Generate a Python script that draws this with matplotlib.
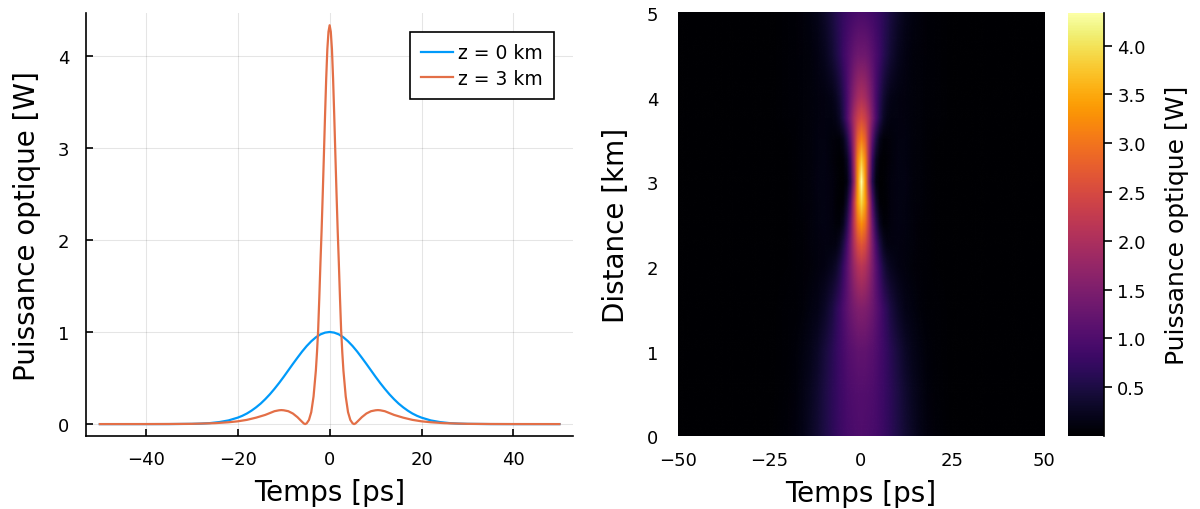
import numpy as np
import matplotlib
matplotlib.use("Agg")
import matplotlib.pyplot as plt
from matplotlib.image import NonUniformImage

# values (t >= 0 half, pulse is symmetric)
t_blue = [0, 1, 2, 3, 4, 5, 6, 7, 8, 9, 10, 11, 12, 13, 14, 15, 16, 17, 18, 19, 20,
          22, 24, 26, 28, 30, 35, 40, 50]
p_blue = [1.0, 0.993, 0.974, 0.942, 0.899, 0.847, 0.787, 0.721, 0.653, 0.583, 0.513,
          0.446, 0.383, 0.324, 0.271, 0.223, 0.182, 0.146, 0.115, 0.090, 0.070,
          0.040, 0.022, 0.011, 0.005, 0.0025, 0.0003, 0.0, 0.0]

t_orange = [0, 0.25, 0.5, 0.75, 1, 1.25, 1.5, 1.75, 2, 2.25, 2.5, 2.75, 3, 3.5, 4, 4.5,
            5, 5.3, 5.6, 6, 6.5, 7, 7.5, 8, 9, 10, 10.5, 11, 12, 13, 14, 16, 18, 20,
            22, 25, 30, 35, 40, 50]
p_orange = [4.33, 4.26, 4.07, 3.75, 3.35, 2.92, 2.5, 2.1, 1.75, 1.37, 1.02, 0.78, 0.58,
            0.30, 0.13, 0.045, 0.008, 0.0, 0.006, 0.025, 0.05, 0.075, 0.095, 0.115,
            0.14, 0.15, 0.152, 0.15, 0.14, 0.12, 0.10, 0.07, 0.046, 0.03, 0.02, 0.01,
            0.003, 0.001, 0.0003, 0.0]

labels = ["z = 0 km", "z = 3 km"]

# heatmap: power vs time (half) and distance
t_map = [0, 1, 2, 3, 4, 5, 6, 7, 8, 10, 12, 14, 16, 18, 20, 25, 30, 40, 50]
z_map = [0, 0.5, 1, 1.5, 2, 2.25, 2.5, 2.75, 3, 3.25, 3.5, 3.75, 4, 4.5, 5]
p_z00 = [1.0, 0.993, 0.974, 0.942, 0.899, 0.846, 0.787, 0.721, 0.653, 0.513, 0.383, 0.271, 0.182, 0.115, 0.069, 0.015, 0.0025, 0, 0]
p_z05 = [1.05, 1.042, 1.019, 0.982, 0.931, 0.871, 0.801, 0.727, 0.649, 0.495, 0.356, 0.240, 0.153, 0.091, 0.052, 0.0096, 0.0012, 0, 0]
p_z10 = [1.2, 1.19, 1.15, 1.09, 1.01, 0.92, 0.82, 0.72, 0.62, 0.44, 0.30, 0.20, 0.13, 0.08, 0.05, 0.012, 0.002, 0, 0]
p_z15 = [1.55, 1.52, 1.43, 1.30, 1.14, 0.97, 0.79, 0.63, 0.49, 0.29, 0.18, 0.12, 0.08, 0.05, 0.035, 0.01, 0.002, 0, 0]
p_z20 = [2.15, 2.06, 1.80, 1.45, 1.08, 0.75, 0.49, 0.32, 0.22, 0.14, 0.11, 0.08, 0.06, 0.04, 0.03, 0.01, 0.002, 0, 0]
p_z225 = [2.65, 2.48, 2.03, 1.45, 0.90, 0.50, 0.26, 0.15, 0.12, 0.13, 0.11, 0.085, 0.06, 0.04, 0.03, 0.01, 0.002, 0, 0]
p_z25 = [3.25, 2.96, 2.23, 1.30, 0.60, 0.22, 0.07, 0.08, 0.11, 0.14, 0.12, 0.09, 0.065, 0.045, 0.03, 0.01, 0.002, 0, 0]
p_z275 = [3.9, 3.40, 2.22, 1.00, 0.35, 0.06, 0.02, 0.06, 0.11, 0.15, 0.13, 0.10, 0.07, 0.045, 0.03, 0.01, 0.003, 0, 0]
p_z30 = [4.33, 3.35, 1.75, 0.58, 0.13, 0.008, 0.025, 0.075, 0.115, 0.15, 0.14, 0.10, 0.07, 0.046, 0.03, 0.01, 0.003, 0, 0]
p_z325 = [3.8, 3.2, 1.9, 0.75, 0.25, 0.06, 0.03, 0.06, 0.10, 0.14, 0.13, 0.10, 0.07, 0.045, 0.03, 0.01, 0.003, 0, 0]
p_z35 = [3.1, 2.8, 1.95, 1.1, 0.50, 0.20, 0.08, 0.07, 0.09, 0.13, 0.12, 0.10, 0.07, 0.05, 0.03, 0.01, 0.003, 0, 0]
p_z375 = [2.5, 2.35, 1.97, 1.45, 0.95, 0.55, 0.30, 0.17, 0.12, 0.12, 0.11, 0.09, 0.07, 0.05, 0.035, 0.012, 0.003, 0, 0]
p_z40 = [2.0, 1.91, 1.65, 1.30, 0.93, 0.62, 0.40, 0.26, 0.18, 0.13, 0.11, 0.09, 0.07, 0.05, 0.035, 0.012, 0.003, 0, 0]
p_z45 = [1.35, 1.32, 1.24, 1.11, 0.96, 0.80, 0.64, 0.50, 0.38, 0.22, 0.14, 0.10, 0.075, 0.055, 0.04, 0.014, 0.004, 0, 0]
p_z50 = [0.95, 0.94, 0.91, 0.87, 0.80, 0.73, 0.65, 0.56, 0.47, 0.32, 0.20, 0.13, 0.085, 0.06, 0.04, 0.015, 0.004, 0, 0]
p_rows = [p_z00, p_z05, p_z10, p_z15, p_z20, p_z225, p_z25, p_z275, p_z30,
          p_z325, p_z35, p_z375, p_z40, p_z45, p_z50]


def mirror_t(t):
    t = np.asarray(t, dtype=float)
    return np.concatenate([-t[:0:-1], t])


def mirror_p(p):
    p = np.asarray(p, dtype=float)
    return np.concatenate([p[:0:-1], p])


blue = "#009AFA"
orange = "#E36F47"
tick_fs = 13
label_fs = 20

fig = plt.figure(figsize=(12, 5.1), dpi=100)
ax = fig.add_axes([0.0717, 0.143, 0.406, 0.829])
hm = fig.add_axes([0.565, 0.143, 0.305, 0.829])
cax = fig.add_axes([0.89, 0.143, 0.030, 0.829])

# left: pulse profiles
ax.plot(mirror_t(t_blue), mirror_p(p_blue), color=blue, lw=1.6, label=labels[0])
ax.plot(mirror_t(t_orange), mirror_p(p_orange), color=orange, lw=1.6, label=labels[1])
ax.set_xlim(-53, 53)
ax.set_ylim(-0.13, 4.46)
ax.set_xticks([-40, -20, 0, 20, 40])
ax.set_yticks([0, 1, 2, 3, 4])
ax.grid(True, color="black", alpha=0.1, lw=0.8)
ax.set_axisbelow(True)
for s in ["top", "right"]:
    ax.spines[s].set_visible(False)
ax.spines["left"].set_linewidth(1.2)
ax.spines["bottom"].set_linewidth(1.2)
ax.tick_params(direction="in", length=5, width=1.2, labelsize=tick_fs)
ax.tick_params(axis="x", pad=10)
ax.tick_params(axis="y", pad=12)
ax.set_xlabel("Temps [ps]", fontsize=label_fs, labelpad=7)
ax.set_ylabel("Puissance optique [W]", fontsize=label_fs, labelpad=12)
leg = ax.legend(loc="upper right", fontsize=13.5, fancybox=False, framealpha=1,
                edgecolor="black", borderaxespad=1.0, handlelength=1.7,
                handletextpad=0.3, borderpad=0.6, labelspacing=0.35)
leg.get_frame().set_linewidth(1.2)

# right: heatmap
T = mirror_t(t_map)
P = np.array([mirror_p(r) for r in p_rows])
im = NonUniformImage(hm, interpolation="bilinear", extent=(-50, 50, 0, 5),
                     cmap="inferno")
im.set_data(T, np.array(z_map, dtype=float), P)
im.set_clim(0.0, 4.33)
hm.add_image(im)
hm.set_xlim(-50, 50)
hm.set_ylim(0, 5)
hm.set_xticks([-50, -25, 0, 25, 50])
hm.set_yticks([0, 1, 2, 3, 4, 5])
for s in hm.spines.values():
    s.set_visible(False)
hm.tick_params(length=0, labelsize=tick_fs)
hm.tick_params(axis="x", pad=11)
hm.tick_params(axis="y", pad=14)
hm.set_xlabel("Temps [ps]", fontsize=label_fs, labelpad=7)
hm.set_ylabel("Distance [km]", fontsize=label_fs, labelpad=12)

cb = fig.colorbar(im, cax=cax)
cb.outline.set_visible(False)
cb.set_ticks([0.5, 1.0, 1.5, 2.0, 2.5, 3.0, 3.5, 4.0])
cb.set_ticklabels(["0.5", "1.0", "1.5", "2.0", "2.5", "3.0", "3.5", "4.0"])
cax.tick_params(length=6, width=1.2, labelsize=tick_fs, direction="out")
cax.plot([1, 1], [0, 1], transform=cax.transAxes, color="black", lw=1.2, clip_on=False)
cb.set_label("Puissance optique [W]", fontsize=18, labelpad=14)

fig.savefig("out.png", dpi=100)
